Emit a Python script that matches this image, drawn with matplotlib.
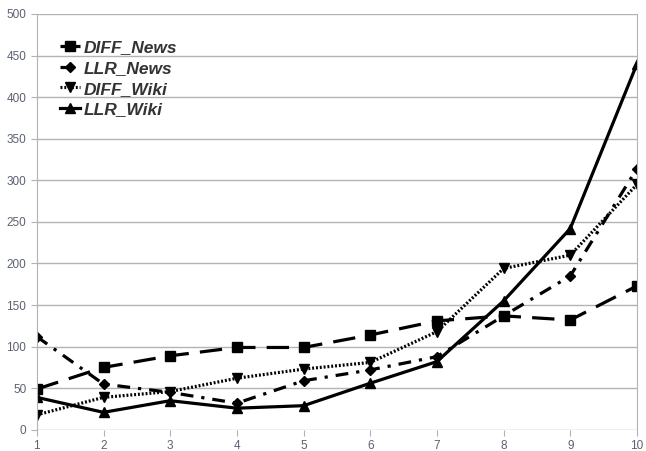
import numpy as np
from matplotlib import pyplot as plt

plt.rcParams['font.family'] = ['Liberation Sans', 'DejaVu Sans']

x = [1, 2, 3, 4, 5, 6, 7, 8, 9, 10]
diff_news = [49, 75, 89, 99, 99, 114, 131, 137, 132, 173]
llr_news = [112, 55, 45, 32, 59, 72, 88, 137, 185, 314]
diff_wiki = [18, 39, 46, 62, 73, 81, 118, 194, 210, 295]
llr_wiki = [39, 21, 35, 26, 29, 56, 82, 155, 242, 440]

fig = plt.figure(figsize=(6.46, 4.51), dpi=100)
ax = fig.add_axes([0.057, 0.047, 0.929, 0.922])

ax.plot(x, diff_news, color='black', lw=2.3, ls=(0, (7, 3.5)), marker='s', ms=7.5, label='DIFF_News')
ax.plot(x, llr_news, color='black', lw=2.3, ls=(0, (4, 2.5, 1, 2.5)), marker='D', ms=5.5, label='LLR_News')
ax.plot(x, diff_wiki, color='black', lw=2.3, ls=(0, (0.6, 0.6)), marker='v', ms=7, label='DIFF_Wiki')
ax.plot(x, llr_wiki, color='black', lw=2.3, ls='-', marker='^', ms=7, label='LLR_Wiki')

ax.set_xlim(1, 10)
ax.set_ylim(0, 500)
ax.set_xticks(x)
ax.set_yticks(range(0, 501, 50))
ax.grid(axis='y', color='#b3b3b3', lw=1)
ax.set_axisbelow(True)
for s in ['top', 'bottom']:
    ax.spines[s].set_visible(False)
ax.spines['left'].set_color('#b3b3b3')
ax.spines['right'].set_color('#b3b3b3')
ax.tick_params(axis='both', colors='#b3b3b3', labelcolor='#5a6270', labelsize=8.5, length=4)
ax.tick_params(axis='x', pad=3)

leg = ax.legend(loc='upper left', bbox_to_anchor=(0.012, 0.975), frameon=False,
                handlelength=1.2, handletextpad=0.2, labelspacing=0.32,
                prop={'style': 'italic', 'weight': 'bold', 'size': 12.5})
for t in leg.get_texts():
    t.set_color('#333333')

plt.savefig('out.png', dpi=100)
